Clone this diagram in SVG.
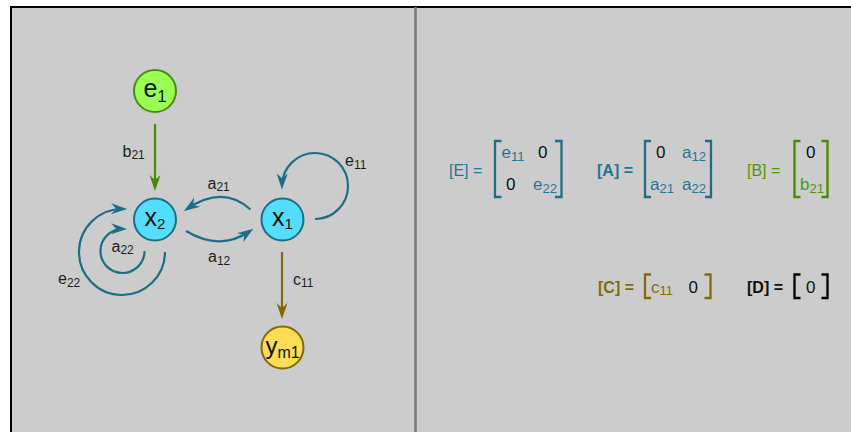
<svg xmlns="http://www.w3.org/2000/svg" width="851" height="432" viewBox="0 0 851 432">
<defs>
<style>
text{font-family:"Liberation Sans",Arial,sans-serif;}
.lbl{font-size:16px;fill:#1e1e1e;}
.sub{font-size:12px;}
.msub{font-size:13px;}
.nd{font-size:25px;fill:#111;}
.ndsub{font-size:16px;}
.mx{font-size:16px;fill:#111;}
.el{font-size:17px;fill:#111;}
.teal{fill:#1f7794;}
.green{fill:#4f9612;}
.olive{fill:#86680a;}
.bold{font-weight:bold;}
.edge{fill:none;stroke-width:2.2;}
.brk{fill:none;stroke-width:2.3;}
</style>
<marker id="mT" viewBox="-13 -6 18 12" refX="0" refY="0" markerWidth="18" markerHeight="12" markerUnits="userSpaceOnUse" orient="auto"><path d="M4,0 L-12,-5.5 L-7,0 L-12,5.5 Z" fill="#1a6e86"/></marker>
<marker id="mG" viewBox="-13 -6 18 12" refX="0" refY="0" markerWidth="18" markerHeight="12" markerUnits="userSpaceOnUse" orient="auto"><path d="M4,0 L-12,-5.5 L-7,0 L-12,5.5 Z" fill="#4a8a00"/></marker>
<marker id="mO" viewBox="-13 -6 18 12" refX="0" refY="0" markerWidth="18" markerHeight="12" markerUnits="userSpaceOnUse" orient="auto"><path d="M4,0 L-12,-5.5 L-7,0 L-12,5.5 Z" fill="#86680a"/></marker>
</defs>
<rect x="0" y="0" width="851" height="432" fill="#ffffff"/>
<rect x="10" y="6" width="841" height="426" fill="#cccccc"/>
<line x1="10" y1="7" x2="851" y2="7" stroke="#000" stroke-width="2"/>
<line x1="11" y1="6" x2="11" y2="432" stroke="#000" stroke-width="2"/>
<line x1="415.5" y1="7" x2="415.5" y2="432" stroke="#7a7a7a" stroke-width="2.5"/>

<g id="connectors">
<path class="edge" stroke="#4a8a00" d="M155,124 V187" marker-end="url(#mG)"/>
<path class="edge" stroke="#86680a" d="M282,252 V315" marker-end="url(#mO)"/>
<path class="edge" stroke="#1a6e86" d="M250.5,209.5 Q222.8,184.8 187.3,208.8" marker-end="url(#mT)"/>
<path class="edge" stroke="#1a6e86" d="M186,231 Q220.4,251.6 250,231" marker-end="url(#mT)"/>
<path class="edge" stroke="#1a6e86" d="M315,219 A33,33 0 1 0 282,185.5" marker-end="url(#mT)"/>
<path class="edge" stroke="#1a6e86" d="M165,252 A43,43 0 1 1 123.05,209" marker-end="url(#mT)"/>
<path class="edge" stroke="#1a6e86" d="M144.5,251 A22,22 0 1 1 123,229" marker-end="url(#mT)"/>
<text class="lbl" x="122.5" y="157">b<tspan class="sub" dy="2">21</tspan></text>
<text class="lbl" x="207.5" y="188.5">a<tspan class="sub" dy="2.5">21</tspan></text>
<text class="lbl" x="208" y="262">a<tspan class="sub" dy="3">12</tspan></text>
<text class="lbl" x="111.5" y="251.5">a<tspan class="sub" dy="2.5">22</tspan></text>
<text class="lbl" x="58" y="283.5">e<tspan class="sub" dy="3">22</tspan></text>
<text class="lbl" x="293" y="285">c<tspan class="sub" dy="2">11</tspan></text>
<text class="lbl" x="345" y="166">e<tspan class="sub" dy="3">11</tspan></text>
</g>

<g id="e1">
<circle cx="155" cy="91" r="21" fill="#99ff55" stroke="#4d8a12" stroke-width="2"/>
<text class="nd" x="155" y="96.5" text-anchor="middle">e<tspan class="ndsub" dy="5">1</tspan></text>
</g>
<g id="x2">
<circle cx="155" cy="219.5" r="21" fill="#55ddff" stroke="#1a6e86" stroke-width="2"/>
<text class="nd" x="155" y="225.5" text-anchor="middle">x<tspan class="ndsub" dy="3.5" style="font-size:15px">2</tspan></text>
</g>
<g id="x1">
<circle cx="282.5" cy="219.5" r="21" fill="#55ddff" stroke="#1a6e86" stroke-width="2"/>
<text class="nd" x="282.5" y="225.5" text-anchor="middle">x<tspan class="ndsub" dy="3.5" style="font-size:15px">1</tspan></text>
</g>
<g id="ym1">
<circle cx="282.5" cy="347.5" r="21" fill="#ffdd55" stroke="#86680a" stroke-width="2"/>
<text class="nd" x="282.5" y="353.5" text-anchor="middle" style="font-size:24px">y<tspan class="ndsub" dy="4">m1</tspan></text>
</g>

<g id="matrixE">
<text class="mx teal" x="449" y="176">[E] =</text>
<path class="brk" stroke="#1a6e86" d="M501.5,141 H495 V197 H501.5"/>
<path class="brk" stroke="#1a6e86" d="M555,141 H561.5 V197 H555"/>
<text class="el teal" x="501.5" y="158">e<tspan class="msub" dy="3">11</tspan></text>
<text class="el" x="538" y="158">0</text>
<text class="el" x="506" y="190">0</text>
<text class="el teal" x="533" y="190">e<tspan class="msub" dy="3">22</tspan></text>
</g>
<g id="matrixA">
<text class="mx teal bold" x="597" y="176">[A] =</text>
<path class="brk" stroke="#1a6e86" d="M651,141 H645 V197 H651"/>
<path class="brk" stroke="#1a6e86" d="M705,141 H711 V197 H705"/>
<text class="el" x="656" y="158">0</text>
<text class="el teal" x="682" y="158">a<tspan class="msub" dy="3">12</tspan></text>
<text class="el teal" x="650" y="190">a<tspan class="msub" dy="3">21</tspan></text>
<text class="el teal" x="682" y="190">a<tspan class="msub" dy="3">22</tspan></text>
</g>
<g id="matrixB">
<text class="mx green" x="747" y="176">[B] =</text>
<path class="brk" stroke="#4a8a00" d="M800.5,141 H794.5 V197 H800.5"/>
<path class="brk" stroke="#4a8a00" d="M821.5,141 H827.5 V197 H821.5"/>
<text class="el" x="806" y="158">0</text>
<text class="el green" x="800" y="190">b<tspan class="msub" dy="3">21</tspan></text>
</g>
<g id="matrixC">
<text class="mx olive bold" x="598" y="293">[C] =</text>
<path class="brk" stroke="#86680a" d="M651,274.5 H645 V298 H651"/>
<path class="brk" stroke="#86680a" d="M704.5,274.5 H710.5 V298 H704.5"/>
<text class="el olive" x="651" y="293">c<tspan class="msub" dy="2">11</tspan></text>
<text class="el" x="688.5" y="293">0</text>
</g>
<g id="matrixD">
<text class="mx bold" x="747" y="293">[D] =</text>
<path class="brk" stroke="#000" stroke-width="3" d="M800.5,274.5 H794.5 V298 H800.5"/>
<path class="brk" stroke="#000" stroke-width="3" d="M821.5,274.5 H827.5 V298 H821.5"/>
<text class="el" x="806" y="293">0</text>
</g>
</svg>
